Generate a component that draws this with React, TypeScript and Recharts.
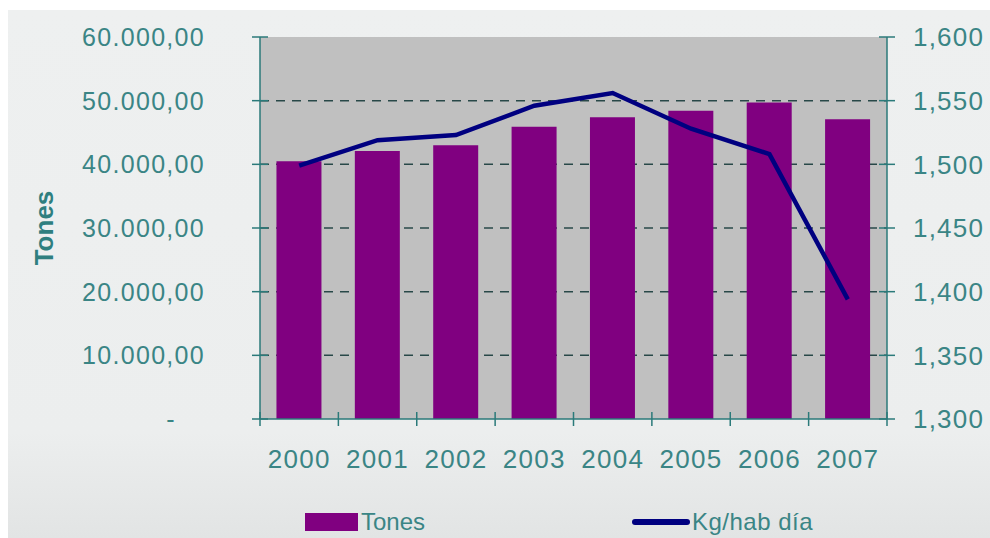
import React from 'react';
import { ComposedChart, Bar, Line, XAxis, YAxis, CartesianGrid, Legend } from 'recharts';

const years = ['2000', '2001', '2002', '2003', '2004', '2005', '2006', '2007'];
const tones = [40500, 42100, 43000, 45900, 47400, 48400, 49700, 47100];
const kgHabDia = [1.499, 1.519, 1.523, 1.546, 1.556, 1.528, 1.508, 1.394];
const leftTicks = [0, 10000, 20000, 30000, 40000, 50000, 60000];
const gridValues = [10000, 20000, 30000, 40000, 50000];
const rightTicks = [1.3, 1.35, 1.4, 1.45, 1.5, 1.55, 1.6];

const data = years.map((y, i) => ({ year: y, tones: tones[i], kg: kgHabDia[i] }));

const TEAL = '#3a8585';
const AXIS = '#2b7a7a';
const FONT = '"Liberation Sans", Arial, sans-serif';

const fmtLeft = (v: number) => {
  if (v === 0) return '-';
  const s = Math.round(v).toString().replace(/\B(?=(\d{3})+(?!\d))/g, '.');
  return s + ',00';
};
const fmtRight = (v: number) => v.toFixed(3).replace('.', ',');

const LeftTick = (props: any) => {
  const { x, y, payload } = props;
  const isZero = payload.value === 0;
  return (
    <g>
      <line x1={x - 8} x2={x + 8} y1={y} y2={y} stroke={AXIS} strokeWidth={1.5} />
      <text x={isZero ? x - 84 : x - 55} y={y} dy="0.36em" textAnchor="end" fill={TEAL} fontSize={25} fontFamily={FONT} letterSpacing={1.3}>
        {fmtLeft(payload.value)}
      </text>
    </g>
  );
};

const RightTick = (props: any) => {
  const { x, y, payload } = props;
  return (
    <g>
      <line x1={x - 8} x2={x + 8} y1={y} y2={y} stroke={AXIS} strokeWidth={1.5} />
      <text x={x + 26} y={y} dy="0.36em" textAnchor="start" fill={TEAL} fontSize={26} fontFamily={FONT} letterSpacing={1.2}>
        {fmtRight(payload.value)}
      </text>
    </g>
  );
};

const PLOT_W = 627;
const band = PLOT_W / years.length;

const XTick = (props: any) => {
  const { x, y, payload, index } = props;
  return (
    <g>
      <line x1={x - band / 2} x2={x - band / 2} y1={y - 7} y2={y + 7} stroke={AXIS} strokeWidth={1.5} />
      {index === years.length - 1 && (
        <line x1={x + band / 2} x2={x + band / 2} y1={y - 7} y2={y + 7} stroke={AXIS} strokeWidth={1.5} />
      )}
      <text x={x} y={y + 40} dy="0.36em" textAnchor="middle" fill={TEAL} fontSize={26} fontFamily={FONT} letterSpacing={1.3}>
        {payload.value}
      </text>
    </g>
  );
};

const LegendContent = () => (
  <div style={{ position: 'relative', width: 990, height: 30, fontFamily: FONT, color: TEAL, fontSize: 24 }}>
    <div style={{ position: 'absolute', left: 305, top: 6, width: 53, height: 18, background: '#800080' }} />
    <div style={{ position: 'absolute', left: 361, top: 0, lineHeight: '30px', letterSpacing: 0 }}>Tones</div>
    <div style={{ position: 'absolute', left: 632, top: 12, width: 58, height: 6, background: '#000080', borderRadius: 3 }} />
    <div style={{ position: 'absolute', left: 692, top: 0, lineHeight: '30px', letterSpacing: 0.5 }}>Kg/hab día</div>
  </div>
);

export default function App() {
  return (
    <div style={{ position: 'absolute', left: 0, top: 0, width: 990, height: 538, background: '#ffffff', overflow: 'hidden' }}>
      <div style={{ position: 'absolute', left: 8, top: 10, width: 982, height: 528, background: 'linear-gradient(180deg, #eef0f0 0%, #eceeee 80%, #e2e4e4 100%)' }} />
      <div style={{ position: 'absolute', left: 0, top: 0 }}>
        <ComposedChart
          width={990}
          height={538}
          data={data}
          margin={{ top: 37, right: 0, bottom: 88, left: 0 }}
          barCategoryGap="21%"
        >
          <CartesianGrid yAxisId="left" horizontal vertical={false} horizontalValues={gridValues} fill="#c0c0c0" fillOpacity={1} stroke="#284848" strokeDasharray="9 7" strokeWidth={1.5} />
          <XAxis
            dataKey="year"
            axisLine={{ stroke: AXIS, strokeWidth: 1.5 }}
            tickLine={false}
            tickSize={0}
            tickMargin={0}
            tick={<XTick />}
            interval={0}
            height={1}
          />
          <YAxis
            yAxisId="left"
            orientation="left"
            width={260}
            domain={[0, 60000]}
            ticks={leftTicks}
            interval={0}
            axisLine={{ stroke: AXIS, strokeWidth: 1.5 }}
            tickLine={false}
            tickSize={0}
            tickMargin={0}
            tick={<LeftTick />}
            label={{ value: 'Tones', angle: -90, position: 'insideLeft', offset: 44, style: { fill: '#2f7f7f', fontSize: 26, fontWeight: 'bold', fontFamily: FONT, textAnchor: 'middle' } }}
          />
          <YAxis
            yAxisId="right"
            orientation="right"
            width={103}
            domain={[1.3, 1.6]}
            ticks={rightTicks}
            interval={0}
            axisLine={{ stroke: AXIS, strokeWidth: 1.5 }}
            tickLine={false}
            tickSize={0}
            tickMargin={0}
            tick={<RightTick />}
          />
          <Bar yAxisId="left" dataKey="tones" name="Tones" fill="#800080" isAnimationActive={false} />
          <Line yAxisId="right" dataKey="kg" name="Kg/hab día" type="linear" stroke="#000080" strokeWidth={4.5} dot={false} activeDot={false} isAnimationActive={false} />
          <Legend content={<LegendContent />} wrapperStyle={{ position: 'absolute', left: 0, top: 507, width: 990 }} />
        </ComposedChart>
      </div>
    </div>
  );
}
